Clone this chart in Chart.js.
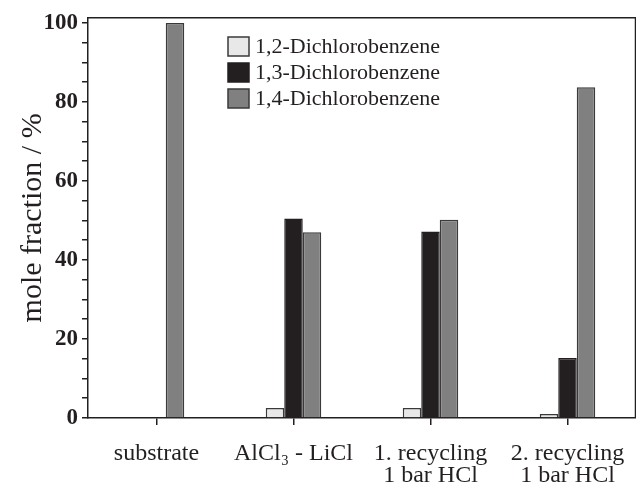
<!DOCTYPE html>
<html>
<head>
<meta charset="utf-8">
<script src="https://cdn.jsdelivr.net/npm/chart.js@4/dist/chart.umd.min.js"></script>
<style>
  html, body { margin: 0; padding: 0; background: #fff; }
  #wrap { width: 636px; height: 485px; }
</style>
</head>
<body>
<div id="wrap"><canvas id="chart" width="636" height="485"></canvas></div>
<script>
// categories and values
const categories = ['substrate', 'AlCl₃ - LiCl', ['1. recycling', '1 bar HCl'], ['2. recycling', '1 bar HCl']];
const seriesNames = ['1,2-Dichlorobenzene', '1,3-Dichlorobenzene', '1,4-Dichlorobenzene'];
const ortho = [0, 2.5, 2.5, 1];
const meta = [0, 50.5, 47.2, 15.2];
const para = [100, 47, 50.2, 83.7];
const yTicks = [0, 20, 40, 60, 80, 100];

const ink = '#231f20';
const serif = "'Liberation Serif', 'DejaVu Serif', serif";

// legend drawn inside the plot, boxes stacked
const innerLegend = {
    id: 'innerLegend',
    afterDraw(chart) {
        const ctx = chart.ctx;
        ctx.save();
        ctx.font = '22px ' + serif;
        ctx.textBaseline = 'middle';
        chart.data.datasets.forEach((ds, i) => {
            const x = 228, y = 37 + i * 26;
            ctx.fillStyle = ds.backgroundColor;
            ctx.fillRect(x, y, 21, 19);
            ctx.strokeStyle = ds.borderColor;
            ctx.lineWidth = 1.5;
            ctx.strokeRect(x, y, 21, 19);
            ctx.fillStyle = ink;
            ctx.fillText(ds.label, 255, y + 10);
        });
        ctx.restore();
    }
};

// top and right frame lines
const frame = {
    id: 'frame',
    afterDraw(chart) {
        const a = chart.chartArea;
        const ctx = chart.ctx;
        ctx.save();
        ctx.strokeStyle = ink;
        ctx.lineWidth = 1.5;
        ctx.beginPath();
        ctx.moveTo(a.left, a.top);
        ctx.lineTo(a.right - 0.5, a.top);
        ctx.lineTo(a.right - 0.5, a.bottom);
        ctx.stroke();
        ctx.restore();
    }
};

new Chart(document.getElementById('chart'), {
    type: 'bar',
    data: {
        labels: categories,
        datasets: [
            { label: seriesNames[0], data: ortho, backgroundColor: '#e8e8e8', borderColor: '#3a3a3a', borderWidth: 1.5 },
            { label: seriesNames[1], data: meta, backgroundColor: ink, borderColor: ink, borderWidth: 1.5 },
            { label: seriesNames[2], data: para, backgroundColor: '#808080', borderColor: '#3a3a3a', borderWidth: 1.5 }
        ]
    },
    options: {
        responsive: false,
        animation: false,
        devicePixelRatio: 1,
        layout: { padding: { left: 8, top: 15, right: 0, bottom: 0 } },
        datasets: { bar: { categoryPercentage: 0.405, barPercentage: 1 } },
        plugins: {
            legend: { display: false },
            tooltip: { enabled: false }
        },
        scales: {
            x: {
                afterFit: (scale) => {
                    scale.height = 67;
                    scale.paddingLeft = 0;
                    scale.paddingRight = 0;
                },
                grid: { drawOnChartArea: false, offset: false, tickLength: 7, color: ink, lineWidth: 1.5 },
                border: { display: true, color: ink, width: 1.5 },
                ticks: {
                    color: ink,
                    padding: 18,
                    maxRotation: 0,
                    autoSkip: false,
                    font: { family: serif, size: 24, lineHeight: 0.9 }
                }
            },
            y: {
                min: 0,
                max: 101.3,
                afterFit: (scale) => { scale.width = 80; },
                afterBuildTicks: (axis) => {
                    axis.ticks = axis.ticks.filter(t => t.value % 5 === 0);
                },
                grid: { drawOnChartArea: false, tickLength: 6, color: ink, lineWidth: 1.5 },
                border: { display: true, color: ink, width: 1.5 },
                ticks: {
                    stepSize: 5,
                    includeBounds: false,
                    autoSkip: false,
                    color: ink,
                    padding: 4,
                    font: { family: serif, size: 23, weight: 'bold' },
                    callback: (v) => yTicks.includes(v) ? String(v) : ''
                },
                title: {
                    display: true,
                    text: 'mole fraction / %',
                    color: ink,
                    padding: { top: 10, bottom: 0 },
                    font: { family: serif, size: 30, lineHeight: 1.0 }
                }
            }
        }
    },
    plugins: [innerLegend, frame]
});
</script>
</body>
</html>
